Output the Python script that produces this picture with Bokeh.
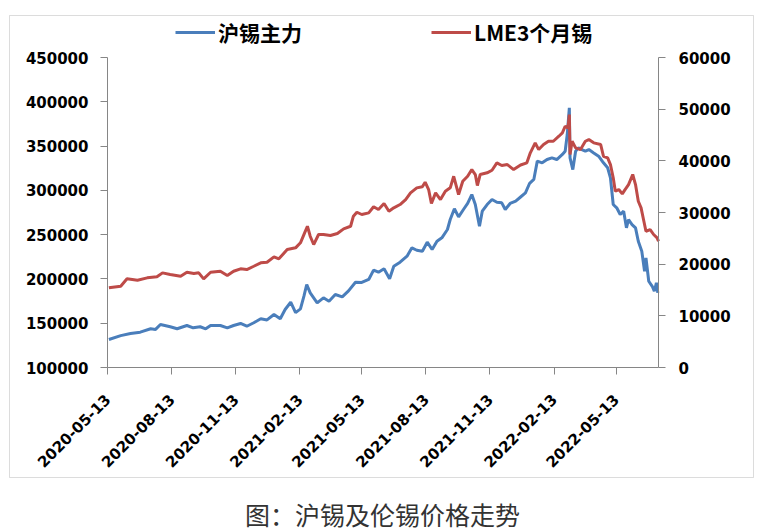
import pandas as pd
from math import pi
from bokeh.plotting import figure
from bokeh.models import (LinearAxis, Range1d, DatetimeTickFormatter, FixedTicker,
                          Legend, LegendItem, Label, BoxAnnotation,
                          BasicTickFormatter)
from bokeh.embed import file_html
from bokeh.resources import INLINE

# ---------------- data ----------------
sn_dates = [
    "2020-05-15", "2020-06-01", "2020-06-15", "2020-06-29", "2020-07-14", "2020-07-21", "2020-07-28",
    "2020-08-11", "2020-08-21", "2020-09-04", "2020-09-13", "2020-09-23", "2020-10-01", "2020-10-08",
    "2020-10-22", "2020-11-01", "2020-11-10", "2020-11-20", "2020-11-29", "2020-12-09", "2020-12-19",
    "2020-12-28", "2021-01-07", "2021-01-16", "2021-01-23", "2021-01-31", "2021-02-07", "2021-02-14",
    "2021-02-19", "2021-02-23", "2021-02-28", "2021-03-10", "2021-03-19", "2021-03-27", "2021-04-05",
    "2021-04-15", "2021-04-24", "2021-05-04", "2021-05-13", "2021-05-23", "2021-05-30", "2021-06-06",
    "2021-06-14", "2021-06-22", "2021-06-28", "2021-07-07", "2021-07-17", "2021-07-24", "2021-07-31",
    "2021-08-08", "2021-08-15", "2021-08-22", "2021-08-29", "2021-09-05", "2021-09-13", "2021-09-17",
    "2021-09-23", "2021-09-29", "2021-10-06", "2021-10-12", "2021-10-18", "2021-10-23", "2021-10-29",
    "2021-11-02", "2021-11-09", "2021-11-16", "2021-11-23", "2021-11-30", "2021-12-05", "2021-12-12",
    "2021-12-20", "2021-12-27", "2022-01-03", "2022-01-09", "2022-01-15", "2022-01-20", "2022-01-27",
    "2022-02-03", "2022-02-10", "2022-02-17", "2022-02-25", "2022-03-01", "2022-03-04", "2022-03-07",
    "2022-03-08", "2022-03-12", "2022-03-16", "2022-03-20", "2022-03-25", "2022-03-30", "2022-04-04",
    "2022-04-11", "2022-04-18", "2022-04-25", "2022-05-01", "2022-05-05", "2022-05-09", "2022-05-14",
    "2022-05-19", "2022-05-24", "2022-05-28", "2022-05-31", "2022-06-05", "2022-06-10", "2022-06-14",
    "2022-06-19", "2022-06-23", "2022-06-25", "2022-06-29", "2022-07-04", "2022-07-07", "2022-07-10",
    "2022-07-12",
]
sn_values = [
    131600, 136000, 138400, 139900, 143700, 143000, 148500,
    146000, 143700, 147400, 144800, 146000, 143700, 147400,
    147400, 144800, 147400, 149700, 146600, 150500, 155000,
    153700, 159800, 155000, 165500, 173700, 162000, 166200,
    180500, 193700, 184300, 173000, 178700, 174900, 182400,
    179800, 186500, 196300, 196000, 199400, 209900, 207600,
    211400, 200100, 214400, 218900, 225700, 235100, 232400,
    231300, 241500, 233200, 242600, 246400, 255800, 267100,
    279200, 270100, 278400, 285200, 295300, 284000, 259500,
    276500, 284000, 289700, 286600, 285900, 278400, 285200,
    287800, 292500, 297200, 308000, 312300, 333000, 331100,
    334800, 336700, 334800, 340500, 344200, 363000, 393200,
    336700, 323500, 344200, 348000, 346100, 344200, 346100,
    342300, 338600, 331100, 325500, 314200, 284000, 280300,
    272700, 276500, 257700, 267100, 261400, 257700, 242600,
    231300, 208700, 223800, 197400, 191700, 186100, 195600,
    184300,
]

lme_dates = [
    "2020-05-15", "2020-06-01", "2020-06-10", "2020-06-25", "2020-07-09", "2020-07-23", "2020-07-31",
    "2020-08-11", "2020-08-26", "2020-09-04", "2020-09-14", "2020-09-21", "2020-09-28", "2020-10-08",
    "2020-10-22", "2020-11-01", "2020-11-10", "2020-11-20", "2020-11-29", "2020-12-09", "2020-12-19",
    "2020-12-28", "2021-01-07", "2021-01-14", "2021-01-26", "2021-02-07", "2021-02-14", "2021-02-20",
    "2021-02-24", "2021-02-28", "2021-03-05", "2021-03-12", "2021-03-19", "2021-03-29", "2021-04-08",
    "2021-04-17", "2021-04-27", "2021-05-01", "2021-05-06", "2021-05-13", "2021-05-23", "2021-05-30",
    "2021-06-06", "2021-06-14", "2021-06-21", "2021-06-28", "2021-07-07", "2021-07-15", "2021-07-22",
    "2021-07-31", "2021-08-08", "2021-08-12", "2021-08-17", "2021-08-21", "2021-08-27", "2021-09-03",
    "2021-09-10", "2021-09-17", "2021-09-22", "2021-09-29", "2021-10-05", "2021-10-12", "2021-10-18",
    "2021-10-23", "2021-10-26", "2021-10-30", "2021-11-09", "2021-11-16", "2021-11-23", "2021-11-30",
    "2021-12-08", "2021-12-17", "2021-12-27", "2022-01-05", "2022-01-10", "2022-01-17", "2022-01-22",
    "2022-01-29", "2022-02-05", "2022-02-12", "2022-02-20", "2022-02-25", "2022-03-01", "2022-03-05",
    "2022-03-07", "2022-03-08", "2022-03-11", "2022-03-16", "2022-03-23", "2022-03-30", "2022-04-04",
    "2022-04-11", "2022-04-21", "2022-04-25", "2022-05-01", "2022-05-05", "2022-05-09", "2022-05-12",
    "2022-05-17", "2022-05-22", "2022-05-26", "2022-05-31", "2022-06-06", "2022-06-10", "2022-06-14",
    "2022-06-18", "2022-06-22", "2022-06-25", "2022-07-01", "2022-07-06", "2022-07-11", "2022-07-13",
]
lme_values = [
    15420, 15730, 17160, 16900, 17350, 17550, 18320,
    18000, 17670, 18440, 18190, 18320, 17160, 18440,
    18630, 17800, 18630, 19100, 18960, 19600, 20260,
    20380, 21420, 21030, 22830, 23160, 24130, 26060,
    27340, 25410, 23800, 25740, 25740, 25540, 25930,
    26840, 27340, 29280, 30050, 29610, 29930, 31100,
    30570, 31730, 30250, 30900, 31540, 32510, 33800,
    34770, 34970, 35860, 34440, 31730, 33800, 32510,
    34120, 34770, 37010, 33480, 36050, 37010, 38310,
    37350, 35220, 37350, 37680, 38180, 39610, 39090,
    39280, 38310, 39200, 39610, 41550, 43480, 42180,
    43150, 43790, 43790, 44760, 45410, 46690, 46380,
    48960, 41220, 43790, 42510, 42180, 43790, 44120,
    43480, 43150, 40890, 40570, 39280, 36710, 34120,
    34440, 33610, 34440, 35410, 37350, 35410, 32180,
    30900, 28310, 26370, 26700, 25740, 25100, 24440,
]

tick_dates = ["2020-05-13", "2020-08-13", "2020-11-13", "2021-02-13", "2021-05-13",
              "2021-08-13", "2021-11-13", "2022-02-13", "2022-05-13"]
x_start, x_end = "2020-05-13", "2022-07-13"
left_range = (100000, 450000)
left_ticks = [100000, 150000, 200000, 250000, 300000, 350000, 400000, 450000]
right_range = (0, 60000)
right_ticks = [0, 10000, 20000, 30000, 40000, 50000, 60000]

series_names = ["沪锡主力", "LME3个月锡"]
caption = "图：沪锡及伦锡价格走势"

# ---------------- layout geometry (canvas pixels) ----------------
W, H = 768, 530
PL, PR, PT, PB = 107, 658, 57, 367      # plot area inside the canvas

BLUE = "#4A7EBB"
RED = "#BE4B48"
AXIS_GRAY = "#868686"

# The frame covers the whole canvas; ranges are widened so that the data
# area lands at PL..PR / PT..PB, and axes are pinned with fixed_location.
xs_ms = pd.Timestamp(x_start).value / 1e6
xe_ms = pd.Timestamp(x_end).value / 1e6
ms_per_px = (xe_ms - xs_ms) / (PR - PL)
x_rng = Range1d(xs_ms - PL * ms_per_px, xe_ms + (W - PR) * ms_per_px)

def widened(lo, hi):
    per_px = (hi - lo) / (PB - PT)
    return Range1d(lo - (H - PB) * per_px, hi + PT * per_px)

p = figure(width=W, height=H, x_axis_type="datetime", output_backend="svg",
           toolbar_location=None, x_range=x_rng, y_range=widened(*left_range),
           min_border_left=0, min_border_right=0, min_border_top=0, min_border_bottom=0)
p.outline_line_color = None
p.xgrid.grid_line_color = None
p.ygrid.grid_line_color = None
p.background_fill_color = "white"
p.border_fill_color = "white"

p.extra_y_ranges = {"lme": widened(*right_range)}
ax_r = LinearAxis(y_range_name="lme", ticker=FixedTicker(ticks=right_ticks),
                  fixed_location=xe_ms, bounds=right_range)
p.add_layout(ax_r, "right")

ax_l = p.yaxis[0]
ax_l.ticker = FixedTicker(ticks=left_ticks)
ax_l.fixed_location = xs_ms
ax_l.bounds = left_range
ax_l.formatter = BasicTickFormatter(use_scientific=False)
ax_r.formatter = BasicTickFormatter(use_scientific=False)

ax_b = p.xaxis[0]
tick_ms = [pd.Timestamp(d).value // 10**6 for d in tick_dates]
ax_b.ticker = FixedTicker(ticks=tick_ms)
ax_b.fixed_location = left_range[0]
ax_b.bounds = (xs_ms, xe_ms)
fmt = "%Y-%m-%d"
ax_b.formatter = DatetimeTickFormatter(days=fmt, months=fmt, years=fmt, hours=fmt,
                                       minutes=fmt, seconds=fmt, milliseconds=fmt,
                                       microseconds=fmt)
ax_b.major_label_orientation = pi / 4

for ax in [ax_b, ax_l, ax_r]:
    ax.axis_line_color = AXIS_GRAY
    ax.major_tick_line_color = AXIS_GRAY
    ax.minor_tick_line_color = None
    ax.major_tick_out = 7
    ax.major_tick_in = 0
    ax.major_label_text_font = "DejaVu Sans"
    ax.major_label_text_font_style = "bold"
    ax.major_label_text_font_size = "15px"
    ax.major_label_text_color = "black"
ax_l.major_label_standoff = 12
ax_r.major_label_standoff = 13
ax_b.major_label_standoff = 22

r1 = p.line(pd.to_datetime(sn_dates), sn_values, line_color=BLUE, line_width=3)
r2 = p.line(pd.to_datetime(lme_dates), lme_values, y_range_name="lme", line_color=RED, line_width=3)

legend = Legend(items=[LegendItem(label=series_names[0], renderers=[r1]),
                       LegendItem(label=series_names[1], renderers=[r2])],
                orientation="horizontal", location=(175, H - 47), spacing=129,
                glyph_width=40, glyph_height=20, label_standoff=3, label_height=20,
                label_text_font="Noto Sans CJK SC", label_text_font_size="21px",
                label_text_font_style="bold", label_text_color="black",
                border_line_color=None, background_fill_alpha=0, padding=5, margin=0)
p.add_layout(legend, "center")

# outer border around chart area (screen units, frame == canvas)
border = BoxAnnotation(left=9, right=753, bottom=H - 477, top=H - 15,
                       left_units="screen", right_units="screen",
                       bottom_units="screen", top_units="screen",
                       fill_alpha=0, line_color="#8C8C8C", line_width=1)
p.add_layout(border)

cap = Label(x=382, y=H - 513, x_units="screen", y_units="screen", text=caption,
            text_align="center", text_baseline="middle", text_font="Noto Sans CJK SC",
            text_font_size="25px", text_color="#333333")
p.add_layout(cap)

open("out.html", "w").write(file_html(p, INLINE))
